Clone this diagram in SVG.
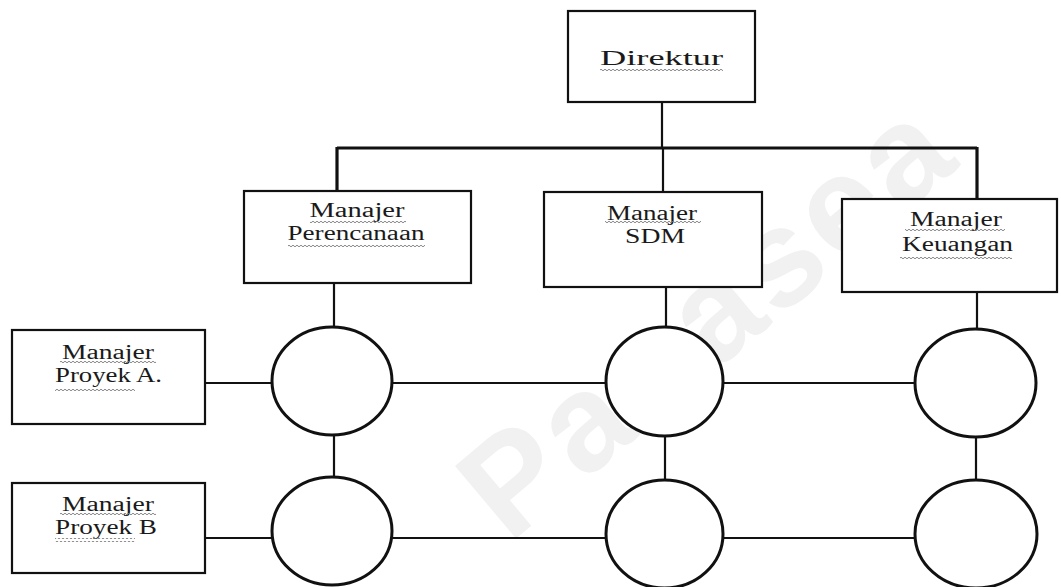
<svg xmlns="http://www.w3.org/2000/svg" width="1061" height="587" viewBox="0 0 1061 587">
<style>
.box{fill:#fff;stroke:#111;stroke-width:2.2}
.circ{fill:#fff;stroke:#111;stroke-width:3}
.ln{stroke:#111;stroke-width:2.2;fill:none}
.thick{stroke-width:3.2}
.t{font-family:"Liberation Serif","Times New Roman",serif;fill:#1a1a1a;text-anchor:middle;font-size:20px}
.wm{font-family:"Liberation Sans",Arial,sans-serif;font-weight:bold;fill:#f1f1f1;font-size:138px;text-anchor:middle}
</style>
<defs>
<pattern id="wave" patternUnits="userSpaceOnUse" width="4" height="4">
<path d="M0,2 Q1,0.4 2,2 T4,2" fill="none" stroke="#777" stroke-width="0.9"/>
</pattern>
</defs>
<rect width="1061" height="587" fill="#fff"/>
<text class="wm" x="735" y="355" textLength="590" transform="rotate(-40 735 355)">Panasea</text>
<g id="connectors">
<line class="ln" x1="662" y1="102" x2="662" y2="148"/>
<line class="ln thick" x1="337" y1="148" x2="977" y2="148"/>
<line class="ln thick" x1="337" y1="147" x2="337" y2="191"/>
<line class="ln" x1="663" y1="148" x2="663" y2="192"/>
<line class="ln thick" x1="977" y1="147" x2="977" y2="199"/>
<line class="ln" x1="334" y1="283" x2="334" y2="327"/>
<line class="ln" x1="666" y1="287" x2="666" y2="327"/>
<line class="ln" x1="977" y1="292" x2="977" y2="329"/>
<line class="ln" x1="334" y1="435" x2="334" y2="477"/>
<line class="ln" x1="665" y1="436" x2="665" y2="480"/>
<line class="ln" x1="976" y1="437" x2="976" y2="480"/>
<line class="ln" x1="205" y1="383" x2="272" y2="383"/>
<line class="ln" x1="392" y1="383" x2="606" y2="383"/>
<line class="ln" x1="723" y1="383" x2="915" y2="383"/>
<line class="ln" x1="205" y1="538" x2="272" y2="538"/>
<line class="ln" x1="392" y1="538" x2="606" y2="538"/>
<line class="ln" x1="723" y1="538" x2="915" y2="538"/>
</g>
<g id="direktur">
<rect class="box" x="568" y="11" width="187" height="91"/>
<text class="t" x="661.5" y="65" font-size="30" textLength="123" lengthAdjust="spacingAndGlyphs">Direktur</text>
<rect x="600" y="68" width="123" height="4" fill="url(#wave)"/>
</g>
<g id="manajer-perencanaan">
<rect class="box" x="244" y="191" width="227" height="92"/>
<text class="t" x="357" y="217" textLength="95" lengthAdjust="spacingAndGlyphs">Manajer</text>
<rect x="310" y="219" width="96" height="4" fill="url(#wave)"/>
<text class="t" x="356" y="240" textLength="137" lengthAdjust="spacingAndGlyphs">Perencanaan</text>
<rect x="288" y="244" width="137" height="4" fill="url(#wave)"/>
</g>
<g id="manajer-sdm">
<rect class="box" x="544" y="192" width="218" height="95"/>
<text class="t" x="652" y="220" textLength="90" lengthAdjust="spacingAndGlyphs">Manajer</text>
<rect x="605" y="220" width="96" height="4" fill="url(#wave)"/>
<text class="t" x="655" y="243" textLength="60" lengthAdjust="spacingAndGlyphs">SDM</text>
</g>
<g id="manajer-keuangan">
<rect class="box" x="842" y="199" width="215" height="93"/>
<text class="t" x="956" y="226" textLength="92" lengthAdjust="spacingAndGlyphs">Manajer</text>
<rect x="905" y="228" width="100" height="4" fill="url(#wave)"/>
<text class="t" x="957.5" y="251" textLength="111" lengthAdjust="spacingAndGlyphs">Keuangan</text>
<rect x="900" y="256" width="112" height="4" fill="url(#wave)"/>
</g>
<g id="manajer-proyek-a">
<rect class="box" x="12" y="330" width="193" height="94"/>
<text class="t" x="108" y="359" textLength="92" lengthAdjust="spacingAndGlyphs">Manajer</text>
<rect x="60" y="361" width="96" height="4" fill="url(#wave)"/>
<text class="t" x="108.5" y="382" textLength="107" lengthAdjust="spacingAndGlyphs">Proyek A.</text>
<rect x="55" y="387" width="80" height="4" fill="url(#wave)"/>
</g>
<g id="manajer-proyek-b">
<rect class="box" x="12" y="483" width="193" height="90"/>
<text class="t" x="108" y="511" textLength="92" lengthAdjust="spacingAndGlyphs">Manajer</text>
<rect x="60" y="513" width="96" height="4" fill="url(#wave)"/>
<text class="t" x="106" y="534" textLength="102" lengthAdjust="spacingAndGlyphs">Proyek B</text>
<rect x="55" y="538" width="80" height="4" fill="url(#wave)"/>
</g>
<g id="circle-a1"><ellipse class="circ" cx="332" cy="381" rx="60" ry="54"/></g>
<g id="circle-a2"><ellipse class="circ" cx="664.5" cy="381.5" rx="58.5" ry="54.5"/></g>
<g id="circle-a3"><ellipse class="circ" cx="975.5" cy="383" rx="60.5" ry="54"/></g>
<g id="circle-b1"><ellipse class="circ" cx="332" cy="531" rx="60" ry="54"/></g>
<g id="circle-b2"><ellipse class="circ" cx="664.5" cy="534" rx="58.5" ry="54"/></g>
<g id="circle-b3"><ellipse class="circ" cx="976" cy="534" rx="61" ry="54"/></g>
</svg>
